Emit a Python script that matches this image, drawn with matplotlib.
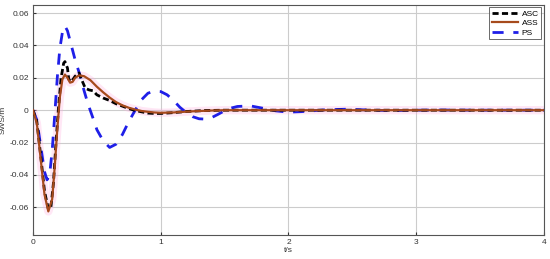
import matplotlib
matplotlib.use('Agg')
import matplotlib.pyplot as plt
import numpy as np

plt.rcParams['font.family'] = ['Liberation Sans', 'DejaVu Sans']

# ASS (brown solid)
t_ass = [0, 0.03, 0.06, 0.09, 0.12, 0.15, 0.17, 0.19, 0.21, 0.23, 0.25, 0.27, 0.29, 0.31, 0.33, 0.36,
         0.40, 0.45, 0.50, 0.55, 0.60, 0.65, 0.70, 0.75, 0.80, 0.85, 0.90, 0.95, 1.00, 1.10, 1.20,
         1.30, 1.40, 1.50, 2.0, 4.0]
v_ass = [0, -0.008, -0.03, -0.052, -0.0625, -0.055, -0.035, -0.012, 0.008, 0.019, 0.022, 0.020,
         0.017, 0.0175, 0.020, 0.0215, 0.021, 0.0185, 0.0145, 0.011, 0.0078, 0.005, 0.003, 0.0015,
         0.0004, -0.0005, -0.001, -0.0014, -0.0016, -0.0014, -0.0009, -0.0005, -0.0002, 0.0, 0, 0]

# ASC (black dashed)
t_asc = [0, 0.03, 0.06, 0.09, 0.12, 0.14, 0.16, 0.18, 0.20, 0.22, 0.24, 0.25, 0.27, 0.28, 0.30,
         0.33, 0.36, 0.38, 0.41, 0.44, 0.47, 0.50, 0.55, 0.60, 0.65, 0.70, 0.75, 0.80, 0.85, 0.90,
         0.95, 1.00, 1.10, 1.20, 1.35, 1.5, 4.0]
v_asc = [0, -0.007, -0.028, -0.05, -0.061, -0.06, -0.045, -0.02, 0.002, 0.02, 0.029, 0.030, 0.026,
         0.019, 0.0175, 0.021, 0.023, 0.019, 0.0135, 0.0125, 0.012, 0.0095, 0.0075, 0.006, 0.004,
         0.0025, 0.001, -0.0002, -0.001, -0.0018, -0.002, -0.002, -0.0015, -0.0008, -0.0002, 0, 0]

# PS (blue dashed)
t_ps = [0, 0.03, 0.06, 0.09, 0.11, 0.13, 0.15, 0.17, 0.19, 0.21, 0.23, 0.25, 0.27, 0.30, 0.33, 0.37,
        0.40, 0.43, 0.47, 0.50, 0.55, 0.60, 0.65, 0.70, 0.75, 0.80, 0.85, 0.90, 0.95, 1.00, 1.05,
        1.10, 1.15, 1.20, 1.25, 1.30, 1.35, 1.40, 1.45, 1.50, 1.55, 1.60, 1.70, 1.80, 1.90, 2.00,
        2.10, 2.20, 2.30, 2.45, 2.60, 2.80, 3.0, 3.2, 3.5, 4.0]
v_ps = [0, -0.006, -0.022, -0.038, -0.043, -0.04, -0.025, -0.003, 0.02, 0.038, 0.048, 0.052, 0.049,
        0.040, 0.031, 0.021, 0.012, 0.004, -0.005, -0.012, -0.019, -0.023, -0.021, -0.015, -0.007,
        0.0, 0.0065, 0.0105, 0.0118, 0.0115, 0.0095, 0.006, 0.0018, -0.0015, -0.004, -0.0053,
        -0.0055, -0.0045, -0.0025, -0.0003, 0.0013, 0.0023, 0.0027, 0.0012, -0.0004, -0.0012,
        -0.0009, -0.0003, 0.0003, 0.0006, 0.0002, -0.0003, 0, 0.0001, 0, 0]

xticks = [0, 1, 2, 3, 4]
yticks = [-0.06, -0.04, -0.02, 0, 0.02, 0.04, 0.06]
ylabels = ['-0.06', '-0.04', '-0.02', '0', '0.02', '0.04', '0.06']

fig = plt.figure(figsize=(5.5, 2.59), dpi=100)
ax = fig.add_axes([0.06, 0.093, 0.929, 0.888])

# faint pink halo seen round the solid curve
ax.plot(t_ass, v_ass, color='#ffb0e0', lw=6, alpha=0.3, solid_capstyle='butt', zorder=1)
ax.plot(t_asc, v_asc, color='black', lw=2, ls=(0, (2.2, 1.2)), label='ASC', zorder=3)
ax.plot(t_ass, v_ass, color='#a64a1c', lw=1.6, label='ASS', zorder=4)
ax.plot(t_ps, v_ps, color='#1f1fe8', lw=2, ls=(0, (4, 3.5)), label='PS', zorder=2)

ax.set_xlim(0, 4)
ax.set_ylim(-0.077, 0.065)
ax.set_xticks(xticks)
ax.set_xticklabels([str(x) for x in xticks])
ax.set_yticks(yticks)
ax.set_yticklabels(ylabels)
ax.tick_params(direction='in', labelsize=6, length=2.5, colors='#333333', pad=3)
ax.grid(True, color='#cccccc', lw=0.8)
ax.set_axisbelow(True)
for s in ax.spines.values():
    s.set_color('#555555')
    s.set_linewidth(0.8)

ax.set_xlabel('t/s', fontsize=6, labelpad=1, color='#333333')
ax.set_ylabel('SWS/m', fontsize=6, color='#333333')
ax.yaxis.set_label_coords(-0.051, 0.5)

leg = ax.legend(loc='upper right', fontsize=6, frameon=True, fancybox=False,
                handlelength=3.2, borderpad=0.3, labelspacing=0.2, handletextpad=0.4,
                borderaxespad=0.3)
leg.get_frame().set_edgecolor('#444444')
leg.get_frame().set_linewidth(0.7)

fig.savefig('out.png', dpi=100)
